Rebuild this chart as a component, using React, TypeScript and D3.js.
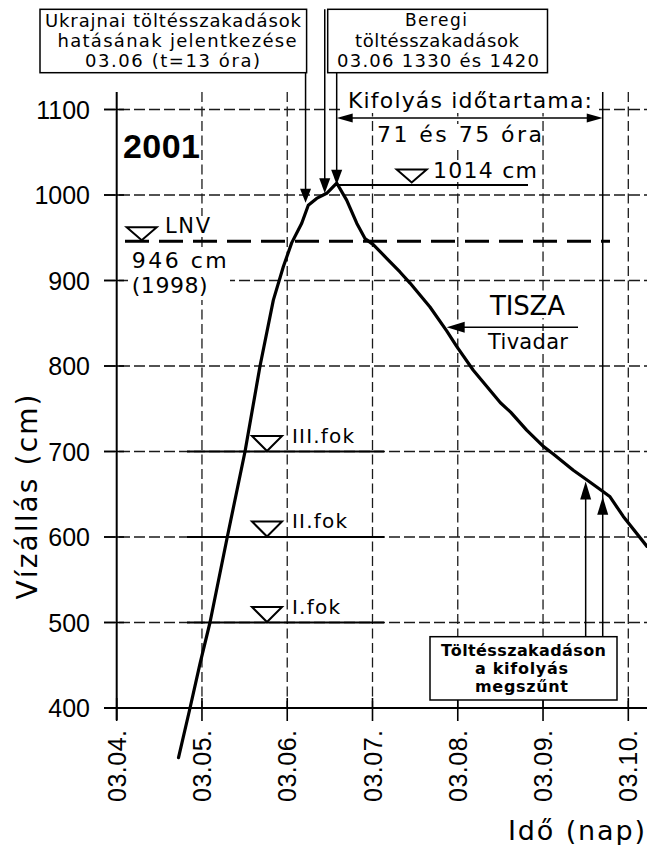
import React from "react";
import * as d3 from "d3";

// Water level at Tivadar (Tisza), March 2001: day of March (decimal) and level (cm)
const days = [4.725, 4.86, 4.977, 5.094, 5.297, 5.505, 5.681, 5.837, 5.954, 6.052, 6.17, 6.247, 6.345, 6.463, 6.58, 6.697, 6.815, 6.912, 7.009, 7.166, 7.322, 7.44, 7.674, 7.87, 7.987, 8.182, 8.5, 8.62, 8.808, 9.003, 9.12, 9.355, 9.512, 9.707, 9.786, 9.941, 10.219];
const levels = [342, 400, 452, 500, 600, 700, 800, 877, 916, 944, 967, 988, 996, 1002, 1014, 994, 967, 949, 942, 926, 910, 897, 869, 841, 823, 795, 757, 746, 725, 706, 697, 678, 667, 653, 647, 624, 589];

const yTicks = [400, 500, 600, 700, 800, 900, 1000, 1100];
const yGrid = [500, 600, 700, 800, 900, 1000, 1100];
const xTickDays = [4, 5, 6, 7, 8, 9, 10];
const xTickLabels = ["03.04.", "03.05.", "03.06.", "03.07.", "03.08.", "03.09.", "03.10."];

const alertLevels = [500, 600, 700];
const alertLabels = ["I.fok", "II.fok", "III.fok"];
const alertWidths = [48, 55, 62];
const lnvLevel = 946;
const peakLevel = 1014;
const peakDay = 6.58;

const breachDays = [6.215, 6.44, 6.58];
const breachLevels = [991, 1002, 1012];
const endDays = [9.5, 9.7];
const endLevels = [665, 647];

const FONT = "DejaVu Sans, Verdana, sans-serif";
const NUMFONT = "Liberation Sans, Arial, Helvetica, sans-serif";

function T(props: any) {
  const { x, y, w, fs, anchor = "start", bold = false, children, rotate, family = FONT } = props;
  return (
    <text
      x={x}
      y={y}
      fontSize={fs}
      fontFamily={family}
      fontWeight={bold ? "bold" : "normal"}
      textAnchor={anchor}
      textLength={w}
      lengthAdjust="spacing"
      transform={rotate ? `rotate(${rotate},${x},${y})` : undefined}
      fill="#000"
    >
      {children}
    </text>
  );
}

function headPts(tx: number, ty: number, dir: string, len: number, half: number) {
  let pts: number[][] = [];
  if (dir === "down") pts = [[tx, ty], [tx - half, ty - len], [tx + half, ty - len]];
  if (dir === "up") pts = [[tx, ty], [tx - half, ty + len], [tx + half, ty + len]];
  if (dir === "left") pts = [[tx, ty], [tx + len, ty - half], [tx + len, ty + half]];
  if (dir === "right") pts = [[tx, ty], [tx - len, ty - half], [tx - len, ty + half]];
  return pts.map((p) => p.join(",")).join(" ");
}

function triPts(cx: number, tipY: number, w: number, h: number) {
  return `${cx - w / 2},${tipY - h} ${cx + w / 2},${tipY - h} ${cx},${tipY}`;
}

export default function App() {
  const W = 647;
  const H = 845;
  const x = d3.scaleLinear().domain([4, 10]).range([116.7, 628.3]);
  const y = d3.scaleLinear().domain([400, 1100]).range([708, 109.5]);

  const pts: [number, number][] = days.map((d, i) => [d, levels[i]]);
  const line = d3
    .line<[number, number]>()
    .x((p) => x(p[0]))
    .y((p) => y(p[1]))
    .curve(d3.curveLinear);

  const gridColor = "#1a1a1a";
  const topY = 92;
  const axisX = x(4);
  const axisY = y(400);

  const whiteBoxes = [
    [342, 90, 255, 23],
    [128, 247, 102, 53],
    [164, 216, 47, 20],
    [377, 124, 163, 23],
    [430, 160, 110, 22],
    [487, 292, 81, 26],
    [486, 331, 84, 23],
  ];

  const kifY = 118;
  const endX = x(endDays[1]);

  return (
    <svg
      width={W}
      height={H}
      viewBox={`0 0 ${W} ${H}`}
      style={{ position: "absolute", left: 0, top: 0, display: "block", background: "#fff" }}
    >
      <rect x={0} y={0} width={W} height={H} fill="#fff" />

      {/* horizontal dashed gridlines */}
      {yGrid.map((v) => (
        <line key={"hg" + v} x1={104} x2={W} y1={y(v)} y2={y(v)} stroke={gridColor} strokeWidth={1.3} strokeDasharray="11,4" />
      ))}
      {/* vertical dashed gridlines */}
      {xTickDays.slice(1).map((d) => (
        <line key={"vg" + d} x1={x(d)} x2={x(d)} y1={topY} y2={axisY} stroke={gridColor} strokeWidth={1.3} strokeDasharray="10,4.5" />
      ))}

      {/* white backgrounds behind labels */}
      {whiteBoxes.map((b, i) => (
        <rect key={"wb" + i} x={b[0]} y={b[1]} width={b[2]} height={b[3]} fill="#fff" />
      ))}

      {/* axes */}
      <line x1={axisX} x2={axisX} y1={topY} y2={axisY + 12} stroke="#000" strokeWidth={2} />
      <line x1={104} x2={W} y1={axisY} y2={axisY} stroke="#000" strokeWidth={2} />
      {yTicks.map((v) => (
        <line key={"yt" + v} x1={104} x2={124} y1={y(v)} y2={y(v)} stroke="#000" strokeWidth={1.6} />
      ))}
      {xTickDays.map((d) => (
        <line key={"xt" + d} x1={x(d)} x2={x(d)} y1={axisY - 10} y2={axisY + 13} stroke="#000" strokeWidth={1.6} />
      ))}

      {/* y tick labels */}
      {yTicks.map((v) => (
        <T key={"yl" + v} x={90} y={y(v) + 9} fs={25} anchor="end" family={NUMFONT}>
          {String(v)}
        </T>
      ))}
      {/* x tick labels */}
      {xTickDays.map((d, i) => (
        <T key={"xl" + d} x={x(d) + 9} y={730} fs={25} anchor="end" rotate={-90} w={72} family={NUMFONT}>
          {xTickLabels[i]}
        </T>
      ))}

      {/* axis titles */}
      <T x={37} y={497} fs={28} anchor="middle" rotate={-90} w={205}>
        Vízállás (cm)
      </T>
      <T x={508} y={840} fs={27} w={137}>
        Idő (nap)
      </T>

      {/* alert levels */}
      {alertLevels.map((v, i) => (
        <g key={"al" + v}>
          <line x1={187} x2={384} y1={y(v)} y2={y(v)} stroke="#000" strokeWidth={2} />
          <polygon points={triPts(267, y(v) - 0.5, 30, 15)} fill="#fff" stroke="#000" strokeWidth={2} />
          <T x={292} y={y(v) - 9} fs={20} w={alertWidths[i]}>
            {alertLabels[i]}
          </T>
        </g>
      ))}

      {/* LNV line */}
      <line x1={125} x2={610} y1={y(lnvLevel)} y2={y(lnvLevel)} stroke="#000" strokeWidth={3} strokeDasharray="24,10" />
      <polygon points={triPts(141.7, y(lnvLevel) - 1, 30, 13)} fill="#fff" stroke="#000" strokeWidth={2} />
      <T x={165} y={233} fs={21} w={45}>LNV</T>
      <T x={131.7} y={268} fs={22} w={95}>946 cm</T>
      <T x={131.7} y={293} fs={22} w={76}>(1998)</T>

      {/* peak line */}
      <line x1={x(peakDay)} x2={528} y1={y(peakLevel) + 2} y2={y(peakLevel) + 2} stroke="#000" strokeWidth={2} />
      <polygon points={triPts(411.7, y(peakLevel) - 0.5, 30, 13)} fill="#fff" stroke="#000" strokeWidth={2} />
      <T x={433} y={178} fs={22} w={104}>1014 cm</T>

      {/* hydrograph */}
      <path d={line(pts) || ""} fill="none" stroke="#000" strokeWidth={3.2} strokeLinejoin="round" strokeLinecap="round" />

      {/* year label */}
      <T x={123} y={158} fs={34} bold w={77} family={NUMFONT}>2001</T>

      {/* breach arrows */}
      <line x1={x(breachDays[0])} x2={x(breachDays[0])} y1={72.7} y2={y(breachLevels[0]) - 8} stroke="#000" strokeWidth={1.5} />
      <polygon points={headPts(x(breachDays[0]), y(breachLevels[0]), "down", 14, 5.5)} fill="#000" />
      <line x1={x(breachDays[1])} x2={x(breachDays[1])} y1={9.3} y2={y(breachLevels[1]) - 8} stroke="#000" strokeWidth={1.5} />
      <polygon points={headPts(x(breachDays[1]), y(breachLevels[1]), "down", 15, 5.5)} fill="#000" />
      <line x1={x(breachDays[2])} x2={x(breachDays[2])} y1={72.7} y2={y(breachLevels[2]) - 8} stroke="#000" strokeWidth={1.5} />
      <polygon points={headPts(x(breachDays[2]), y(breachLevels[2]), "down", 15, 5.5)} fill="#000" />

      {/* outflow duration */}
      <line x1={endX} x2={endX} y1={topY} y2={636.7} stroke="#000" strokeWidth={1.5} />
      <line x1={x(breachDays[2]) + 4} x2={endX - 4} y1={kifY} y2={kifY} stroke="#000" strokeWidth={1.5} />
      <polygon points={headPts(x(breachDays[2]), kifY, "left", 16, 4.5)} fill="#000" />
      <polygon points={headPts(endX, kifY, "right", 16, 4.5)} fill="#000" />
      <T x={348} y={108} fs={22} w={244}>Kifolyás időtartama:</T>
      <T x={377} y={141.7} fs={22} w={165}>71 és 75 óra</T>

      {/* end of outflow arrows */}
      <line x1={x(endDays[0])} x2={x(endDays[0])} y1={636.7} y2={y(endLevels[0]) + 8} stroke="#000" strokeWidth={1.5} />
      <polygon points={headPts(x(endDays[0]), y(endLevels[0]), "up", 18, 5.5)} fill="#000" />
      <polygon points={headPts(endX, y(endLevels[1]), "up", 18, 5.5)} fill="#000" />

      {/* TISZA label */}
      <T x={490} y={315} fs={26} w={75}>TISZA</T>
      <line x1={455} x2={578} y1={327.3} y2={327.3} stroke="#000" strokeWidth={1.5} />
      <polygon points={headPts(446.7, 327.3, "left", 18, 5.5)} fill="#000" />
      <T x={488} y={349} fs={21} w={80}>Tivadar</T>

      {/* boxes */}
      <rect x={40} y={9.3} width={266.6} height={63.4} fill="#fff" stroke="#000" strokeWidth={1.5} />
      <T x={173} y={27} fs={18} anchor="middle" w={256}>Ukrajnai töltésszakadások</T>
      <T x={177} y={46.5} fs={18} anchor="middle" w={239}>hatásának jelentkezése</T>
      <T x={172.5} y={66.5} fs={18} anchor="middle" w={175}>03.06 (t=13 óra)</T>

      <rect x={327.7} y={9.3} width={219.8} height={63.4} fill="#fff" stroke="#000" strokeWidth={1.5} />
      <T x={436} y={26} fs={17} anchor="middle" w={62}>Beregi</T>
      <T x={437} y={47} fs={18} anchor="middle" w={164}>töltésszakadások</T>
      <T x={438} y={66.5} fs={18} anchor="middle" w={202}>03.06 1330 és 1420</T>

      <rect x={430} y={636.7} width={187} height={63.3} fill="#fff" stroke="#000" strokeWidth={1.5} />
      <T x={523.5} y={656} fs={16} bold anchor="middle" w={165}>Töltésszakadáson</T>
      <T x={521.5} y={674} fs={16} bold anchor="middle" w={93}>a kifolyás</T>
      <T x={521.5} y={692} fs={16} bold anchor="middle" w={93}>megszűnt</T>
    </svg>
  );
}
